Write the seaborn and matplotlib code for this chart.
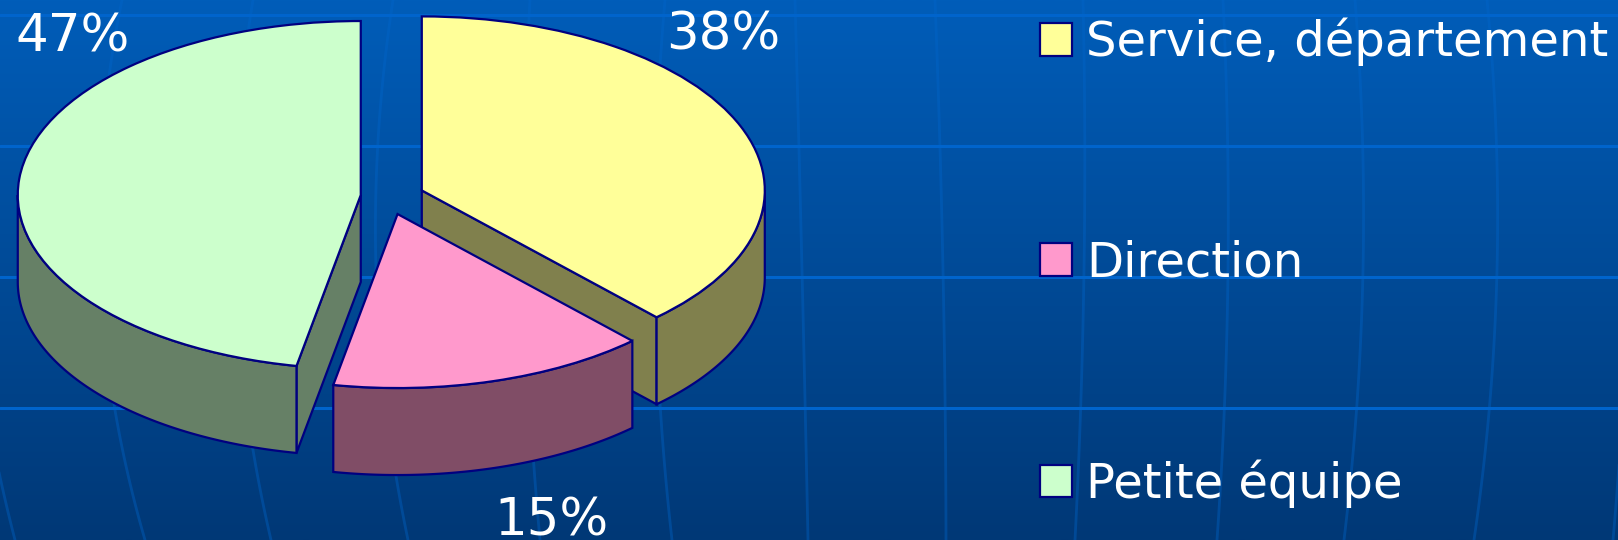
import numpy as np
import matplotlib
matplotlib.use("Agg")
import matplotlib.pyplot as plt
from matplotlib.colors import LinearSegmentedColormap, to_rgb
from matplotlib.patches import Patch
import seaborn as sns

# ---- data
categories = ["Service, département", "Direction", "Petite équipe"]
values = [38, 15, 47]
colors = ["#FFFF99", "#FF99CC", "#CCFFCC"]
explode = [0.095, 0.105, 0.09]

# ---- background decoration (pixels in the 1618x540 picture)
grid_rows = [15, 146, 277, 408]
curves_top = [-25, 122, 253, 393, 530, 665, 795, 935, 1083, 1223, 1355, 1487, 1625]
curves_mid = [-30, 100, 235, 376, 525, 655, 802, 943, 1084, 1228, 1363, 1497, 1628]
curves_bot = [15, 145, 271, 408, 540, 672, 808, 946, 1075, 1217, 1344, 1474, 1613]

W, H = 1618, 540
rx, ry = 343.0, 174.0    # pie radius on screen
cx, cy = 391.5, 196.5    # pie centre on screen
depth = 87 / ry
edge = "#000080"
lw = 1.6
pink_nudge = -4 / rx     # the pink slice sits a bit left of its radial offset

sns.set_theme(style="white")
plt.rcParams["font.family"] = ["DejaVu Sans"]

fig = plt.figure(figsize=(W / 100, H / 100), dpi=100)

# background gradient and lines
bg = fig.add_axes([0, 0, 1, 1])
cmap = LinearSegmentedColormap.from_list("slide", ["#005DB9", "#003876"])
bg.imshow(np.linspace(0, 1, 256).reshape(-1, 1), cmap=cmap, aspect="auto", extent=(0, W, H, 0))
ys = np.linspace(0, H, 60)
for a, b, c in zip(curves_top, curves_mid, curves_bot):
    fit = np.polyfit([0, H / 2, H], [a, b, c], 2)
    bg.plot(np.polyval(fit, ys), ys, color="#0066CC", alpha=0.38, lw=2.0)
for y in grid_rows:
    bg.plot([0, W], [y, y], color="#0064CC", lw=2.2)
bg.set_xlim(0, W)
bg.set_ylim(H, 0)
bg.axis("off")

# pie
ax = fig.add_axes([0, 0, 1, 1])
ax.patch.set_alpha(0)
wedges, _ = ax.pie(values, explode=explode, colors=colors, startangle=90, counterclock=False,
                   wedgeprops=dict(edgecolor=edge, linewidth=lw, zorder=3))
wedges[1].set_center((wedges[1].center[0] + pink_nudge, wedges[1].center[1]))
ax.set_aspect("auto")
ax.set_xlim(-cx / rx, (W - cx) / rx)
ax.set_ylim(-(H - cy) / ry, cy / ry)
ax.axis("off")


def wall(t, ox, oy, colour, z):
    # t: angles clockwise from 12 o'clock, side wall hanging below that outline
    x = ox + np.sin(t)
    y = oy + np.cos(t)
    ax.fill(np.r_[x, x[::-1]], np.r_[y, y[::-1] - depth], facecolor=colour,
            edgecolor=edge, linewidth=lw, zorder=z)


# side walls, worked out from the values
ends = np.cumsum(values) / np.sum(values) * 2 * np.pi
starts = np.r_[0, ends[:-1]]
for i in [0, 2, 1]:
    side = tuple(0.5 * np.array(to_rgb(colors[i])))
    ox, oy = wedges[i].center
    z = 2 if i == 1 else 1
    for t in (starts[i], ends[i]):
        sign = 1 if t == ends[i] else -1
        if sign * np.sin(t) > 1e-6:
            # cut face from centre to rim
            fx = [ox, ox + np.sin(t), ox + np.sin(t), ox]
            fy = [oy, oy + np.cos(t), oy + np.cos(t) - depth, oy - depth]
            ax.fill(fx, fy, facecolor=side, edgecolor=edge, linewidth=lw, zorder=z)
    lo, hi = max(starts[i], np.pi / 2), min(ends[i], 3 * np.pi / 2)
    if hi > lo:
        wall(np.linspace(lo, hi, 80), ox, oy, side, z)

# percent labels
label_pos = [(666, 49.5), (494, 536), (15, 52)]
for v, (x, y) in zip(values, label_pos):
    fig.text(x / W, 1 - y / H, f"{v}%", color="white", fontsize=37, va="baseline", ha="left", zorder=10)

# legend
handles = [Patch(facecolor=c, edgecolor=edge, linewidth=1.6) for c in colors]
fig.legend(handles, categories, loc="upper left", bbox_to_anchor=(1040 / W, 1 - 18 / H),
           frameon=False, fontsize=34.7, labelcolor="white", borderpad=0, borderaxespad=0,
           handlelength=0.66, handleheight=0.66, handletextpad=0.3, labelspacing=3.59)

fig.savefig("out.png", dpi=100)
